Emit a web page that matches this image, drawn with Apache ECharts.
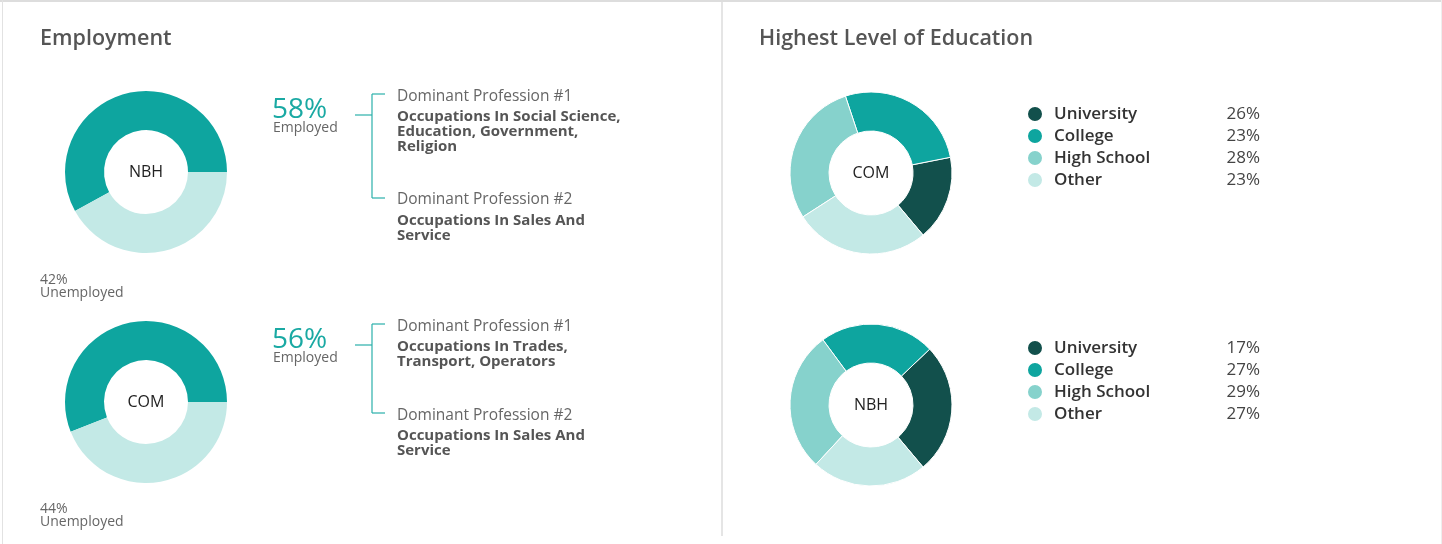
<!DOCTYPE html>
<html>
<head>
<meta charset="UTF-8">
<title>Employment / Highest Level of Education</title>
<script type="text/javascript" src="https://cdn.jsdelivr.net/npm/echarts@6/dist/echarts.min.js"></script>
<style>
  *{margin:0;padding:0}
  html,body{width:100%;height:100%;background:#fff}
  #main{width:1442px;height:544px}
</style>
</head>
<body>
<div id="main"></div>
<script type="text/javascript">
// employment, one row per area
var areas = ['NBH', 'COM'];
var employed = [58, 56];
var unemployed = [42, 44];
var profession1 = ['Occupations In Social Science,\nEducation, Government,\nReligion', 'Occupations In Trades,\nTransport, Operators'];
var profession2 = ['Occupations In Sales And\nService', 'Occupations In Sales And\nService'];

// education, top donut then bottom donut
var eduLevels = ['University', 'College', 'High School', 'Other'];
var eduAreas = ['COM', 'NBH'];
var eduCOM = [17, 27, 29, 27];
var eduNBH = [26, 23, 28, 23];
// the page prints the other donut's numbers beside each legend
var eduListed = [eduNBH, eduCOM];

var TEAL = '#0ea59f', LIGHT = '#c3e9e6', DARK = '#12504c', MID = '#86d2cc';
var FONT = '"Open Sans", sans-serif';

function txt(x, y, text, size, color, weight, lh, va) {
  return {
    type: 'text', x: x, y: y, silent: true,
    style: {
      text: text, fontSize: size, fontFamily: FONT, fontWeight: weight || 'normal',
      fill: color, align: 'left', verticalAlign: va || 'middle', lineHeight: lh || size
    }
  };
}
function line(x1, y1, x2, y2, color, w) {
  return { type: 'line', silent: true, shape: { x1: x1, y1: y1, x2: x2, y2: y2 }, style: { stroke: color, lineWidth: w || 1 } };
}

var graphics = [
  line(0, 1, 1442, 1, '#dddddd', 2),
  line(2.5, 0, 2.5, 544, '#e2e2e2', 1),
  line(1441.5, 0, 1441.5, 544, '#eeeeee', 1),
  line(722, 0, 722, 536, '#dddddd', 1.5),
  txt(40, 38.5, 'Employment', 21.5, '#555', 600),
  txt(759, 38.5, 'Highest Level of Education', 21.5, '#555', 600)
];

// per-row offsets of the employment text block
var rowY = [0, 230];
var bracket = [[94, 115, 198], [324, 345, 413]];
var prof2Y = [200, 415.5];
var unempY = [280, 509.5];
for (var i = 0; i < areas.length; i++) {
  var b = bracket[i];
  graphics.push(
    txt(272, 110 + rowY[i], employed[i] + '%', 28, '#1aa9a3'),
    txt(273, 128.5 + rowY[i], 'Employed', 14, '#666'),
    line(355, b[1], 372, b[1], '#2bb0aa', 1.2),
    line(372, b[0], 372, b[2], '#2bb0aa', 1.2),
    line(372, b[0], 385, b[0], '#2bb0aa', 1.2),
    line(372, b[2], 385, b[2], '#2bb0aa', 1.2),
    txt(397, 97 + rowY[i], 'Dominant Profession #1', 15.5, '#666'),
    txt(397, 109 + rowY[i], profession1[i], 15, '#555', 'bold', 15, 'top'),
    txt(397, prof2Y[i], 'Dominant Profession #2', 15.5, '#666'),
    txt(397, prof2Y[i] + 13, profession2[i], 15, '#555', 'bold', 15, 'top'),
    txt(40, unempY[i], unemployed[i] + '%', 14, '#666'),
    txt(40, unempY[i] + 13, 'Unemployed', 14, '#666')
  );
}

var centerLabel = { show: true, position: 'center', fontSize: 16, color: '#222', fontFamily: FONT };

var series = [];
for (var i = 0; i < areas.length; i++) {
  series.push({
    type: 'pie', silent: true,
    center: [146, 172 + i * 230], radius: [42, 81],
    startAngle: 0, clockwise: false,
    label: { show: false }, labelLine: { show: false },
    data: [
      { name: 'Employed', value: employed[i], itemStyle: { color: TEAL },
        label: Object.assign({ formatter: areas[i] }, centerLabel) },
      { name: 'Unemployed', value: unemployed[i], itemStyle: { color: LIGHT } }
    ]
  });
}
var eduColors = [DARK, TEAL, MID, LIGHT];
var eduData = [eduCOM, eduNBH];
for (var j = 0; j < eduAreas.length; j++) {
  series.push({
    type: 'pie', silent: true,
    center: [871, 173 + j * 232], radius: [42, 81],
    startAngle: 310, clockwise: false,
    label: { show: false }, labelLine: { show: false },
    itemStyle: { borderColor: '#fff', borderWidth: 1 },
    data: eduLevels.map(function (n, k) {
      var d = { name: n, value: eduData[j][k], itemStyle: { color: eduColors[k] } };
      if (k === 0) d.label = Object.assign({ formatter: eduAreas[j] }, centerLabel);
      return d;
    })
  });
}

function makeLegend(idx, top) {
  return {
    orient: 'vertical', left: 1026, top: top, padding: 0,
    icon: 'circle', itemWidth: 16, itemHeight: 16, itemGap: 4,
    selectedMode: false, data: eduLevels,
    formatter: function (name) {
      return '{n|' + name + '}{v|' + eduListed[idx][eduLevels.indexOf(name)] + '%}';
    },
    textStyle: {
      fontFamily: FONT, fontSize: 17, lineHeight: 16,
      rich: {
        n: { width: 150, fontSize: 17, fontWeight: 600, color: '#333', lineHeight: 16, padding: [0, 0, 0, 6], fontFamily: FONT },
        v: { width: 56, align: 'right', fontSize: 17, color: '#444', lineHeight: 16, fontFamily: FONT }
      }
    }
  };
}

var option = {
  backgroundColor: '#fff',
  animation: false,
  legend: [makeLegend(0, 105), makeLegend(1, 339)],
  graphic: graphics,
  series: series
};

var myChart = echarts.init(document.getElementById('main'));
myChart.setOption(option);
</script>
</body>
</html>
